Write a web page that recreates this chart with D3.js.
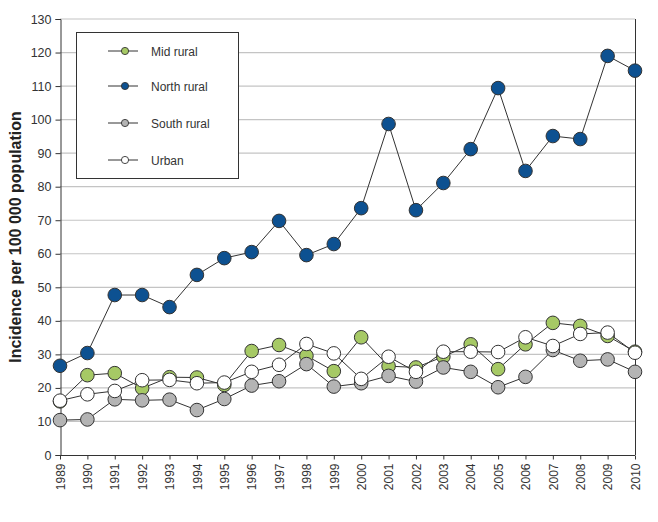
<!DOCTYPE html>
<html><head><meta charset="utf-8">
<script src="https://cdn.jsdelivr.net/npm/d3@7"></script>
<style>body{margin:0;background:#fff;} text{font-family:"Liberation Sans",Arial,Helvetica,sans-serif;}</style>
</head><body><svg id="c" width="658" height="522"></svg>
<script>
const years = [1989,1990,1991,1992,1993,1994,1995,1996,1997,1998,1999,2000,2001,2002,2003,2004,2005,2006,2007,2008,2009,2010];
const midRural   = [16.0,23.8,24.4,19.9,23.2,23.1,20.9,31.0,32.8,29.6,25.0,35.1,26.5,26.1,29.3,33.0,25.6,33.0,39.4,38.5,35.5,30.8];
const northRural = [26.6,30.4,47.7,47.7,44.1,53.7,58.7,60.5,69.8,59.6,62.9,73.6,98.7,73.0,81.1,91.2,109.4,84.7,95.1,94.2,119.0,114.6];
const southRural = [10.4,10.6,16.6,16.3,16.5,13.4,16.7,20.7,22.0,27.1,20.4,21.4,23.6,21.9,26.1,24.8,20.2,23.3,31.3,28.1,28.5,24.8];
const urban      = [16.2,18.1,19.1,22.3,22.4,21.4,21.6,24.8,26.9,33.1,30.3,22.7,29.3,24.8,30.8,30.8,30.7,35.1,32.5,36.1,36.5,30.5];
const seriesNames = ["Mid rural","North rural","South rural","Urban"];
const seriesColors = ["#a6c965","#0d5191","#b4b4b4","#ffffff"];
const yTicks = [0,10,20,30,40,50,60,70,80,90,100,110,120,130];
const yTitle = "Incidence per 100 000 population";

const series = [midRural, northRural, southRural, urban].map((v,i)=>({name:seriesNames[i], color:seriesColors[i], values:v}));

const svg = d3.select("#c");
const L=60, R=635, T=19, B=455;
const x = d3.scaleLinear().domain([1989,2010]).range([L,R]);
const y = d3.scaleLinear().domain([0,130]).range([B,T]);

// gridlines
svg.append("g").selectAll("line").data(yTicks.filter(d=>d>0)).join("line")
  .attr("x1",L).attr("x2",R).attr("y1",d=>y(d)).attr("y2",d=>y(d))
  .attr("stroke","#c4c4c4").attr("stroke-width",1.2);

// right border
svg.append("line").attr("x1",R+0.5).attr("x2",R+0.5).attr("y1",y(130)).attr("y2",B).attr("stroke","#333").attr("stroke-width",1);

// legend box (covers gridlines)
const lg = svg.append("g");
lg.append("rect").attr("x",76.5).attr("y",32.5).attr("width",162).attr("height",146)
  .attr("fill","#fff").attr("stroke","#333").attr("stroke-width",1);
const lrows=[51,86,123,160];
series.forEach((s,i)=>{
  lg.append("line").attr("x1",108).attr("x2",138).attr("y1",lrows[i]).attr("y2",lrows[i]).attr("stroke","#333");
  lg.append("circle").attr("cx",125).attr("cy",lrows[i]).attr("r",3.6).attr("fill",s.color).attr("stroke","#333").attr("stroke-width",0.9);
  lg.append("text").attr("x",151).attr("y",lrows[i]+4.5).attr("font-size",12).attr("fill","#333").text(s.name);
});

// axes
const yAxis = d3.axisLeft(y).tickValues(yTicks).tickSize(5).tickPadding(4).tickFormat(d3.format("d"));
const ga = svg.append("g").attr("transform",`translate(${L+0.5},0)`).call(yAxis);
ga.selectAll("text").attr("font-size",12.5).attr("fill","#333").style("font-family",'"Liberation Sans",Arial,sans-serif');
ga.selectAll("line,path").attr("stroke","#333");

const xAxis = d3.axisBottom(x).tickValues(years).tickSize(4).tickFormat(d3.format("d"));
const gx = svg.append("g").attr("transform",`translate(0,${B+0.5})`).call(xAxis);
gx.select("path").attr("d",`M${L},0H${R}`);
gx.selectAll("line,path").attr("stroke","#333");
gx.selectAll("text").attr("font-size",12).attr("fill","#333").style("font-family",'"Liberation Sans",Arial,sans-serif')
  .attr("transform","rotate(-90)").attr("text-anchor","end").attr("x",-8).attr("y",0).attr("dy","0.35em");

// title
svg.append("text").attr("transform",`translate(21,${(T+B)/2}) rotate(-90)`).attr("text-anchor","middle")
  .attr("font-size",16).attr("font-weight","bold").attr("fill","#222").text(yTitle);

// series
const line = d3.line().x((d,i)=>x(years[i])).y(d=>y(d));
series.forEach(s=>{
  const g = svg.append("g");
  g.append("path").attr("d",line(s.values)).attr("fill","none").attr("stroke","#333").attr("stroke-width",1);
  g.selectAll("circle").data(s.values).join("circle")
    .attr("cx",(d,i)=>x(years[i])).attr("cy",d=>y(d)).attr("r",6.8)
    .attr("fill",s.color).attr("stroke","#333").attr("stroke-width",1);
});
</script></body></html>
